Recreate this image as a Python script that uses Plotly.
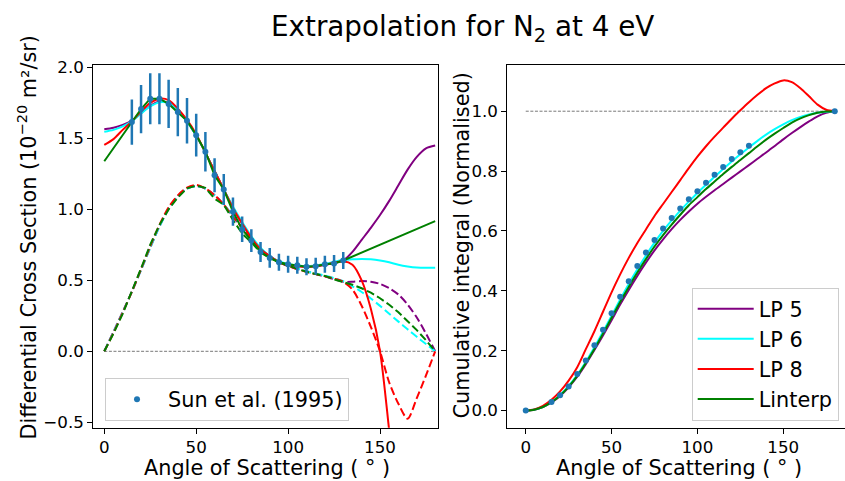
import plotly.graph_objects as go

# ---------------- data ----------------
ANG = [0, 5, 10, 15, 20, 25, 30, 35, 40, 45, 50, 55, 60, 65, 70, 75, 80, 85, 90,
       95, 100, 105, 110, 115, 120, 125, 130, 135, 140, 145, 150, 155, 160, 165,
       170, 175, 180]

# Differential cross sections (solid)
LP5 = [1.564, 1.575, 1.595, 1.625, 1.68, 1.73, 1.76, 1.75, 1.70, 1.62, 1.52, 1.40,
       1.27, 1.14, 1.01, 0.90, 0.80, 0.72, 0.67, 0.63, 0.61, 0.60, 0.60, 0.60, 0.61,
       0.62, 0.64, 0.70, 0.785, 0.87, 0.96, 1.06, 1.17, 1.28, 1.37, 1.43, 1.45]
LP6 = [1.546, 1.56, 1.585, 1.62, 1.675, 1.725, 1.755, 1.75, 1.70, 1.62, 1.52, 1.40,
       1.27, 1.14, 1.02, 0.91, 0.81, 0.73, 0.67, 0.635, 0.615, 0.605, 0.60, 0.605,
       0.615, 0.63, 0.645, 0.648, 0.65, 0.648, 0.64, 0.627, 0.61, 0.598, 0.59, 0.588,
       0.589]
LP8 = [1.454, 1.495, 1.56, 1.62, 1.69, 1.75, 1.78, 1.77, 1.71, 1.63, 1.53, 1.40,
       1.27, 1.14, 1.01, 0.90, 0.80, 0.72, 0.67, 0.63, 0.61, 0.60, 0.595, 0.60, 0.61,
       0.625, 0.635, 0.61, 0.50, 0.30, 0.0, -0.56, -1.15, -1.75, -1.95, -1.9, -1.8]
LIN_ANG = [0, 15, 20, 25, 30, 35, 40, 45, 50, 55, 60, 65, 70, 75, 80, 85, 90, 95,
           100, 105, 110, 115, 120, 125, 130, 180]
LIN = [1.339, 1.615, 1.707, 1.78, 1.78, 1.743, 1.686, 1.624, 1.523, 1.406, 1.241,
       1.14, 0.984, 0.86, 0.78, 0.70, 0.658, 0.628, 0.613, 0.606, 0.596, 0.60, 0.613,
       0.619, 0.64, 0.917]

# DCS x sin(theta) (dashed)
LP5_W = [0, 0.137, 0.277, 0.421, 0.575, 0.731, 0.88, 1.004, 1.093, 1.146, 1.164,
         1.147, 1.10, 1.033, 0.949, 0.869, 0.788, 0.717, 0.67, 0.628, 0.601, 0.580,
         0.564, 0.544, 0.528, 0.508, 0.49, 0.49, 0.495, 0.49, 0.475, 0.445, 0.40,
         0.33, 0.238, 0.125, 0]
LP6_W = [0, 0.136, 0.275, 0.419, 0.573, 0.729, 0.878, 1.004, 1.093, 1.146, 1.164,
         1.147, 1.100, 1.033, 0.958, 0.879, 0.798, 0.727, 0.67, 0.633, 0.606, 0.584,
         0.564, 0.548, 0.533, 0.516, 0.494, 0.458, 0.418, 0.372, 0.32, 0.265, 0.209,
         0.155, 0.102, 0.051, 0]
LP8_W = [0, 0.130, 0.271, 0.419, 0.578, 0.740, 0.89, 1.015, 1.099, 1.153, 1.172,
         1.147, 1.10, 1.033, 0.949, 0.869, 0.788, 0.717, 0.67, 0.628, 0.601, 0.580,
         0.559, 0.544, 0.528, 0.512, 0.49, 0.435, 0.321, 0.172, 0, -0.22, -0.37,
         -0.475, -0.33, -0.17, 0]
LIN_W = [0, 0.125, 0.264, 0.418, 0.584, 0.752, 0.89, 1.0, 1.084, 1.148, 1.167, 1.152,
         1.075, 1.033, 0.925, 0.83, 0.768, 0.697, 0.658, 0.626, 0.604, 0.585, 0.56,
         0.544, 0.531, 0.507, 0.49, 0.469, 0.444, 0.413, 0.374, 0.328, 0.275, 0.215,
         0.149, 0.078, 0]

# Sun et al. (1995)
SUN_ANG = [15, 20, 25, 30, 35, 40, 45, 50, 55, 60, 65, 70, 75, 80, 85, 90, 95, 100,
           105, 110, 115, 120, 125, 130]
SUN_DCS = [1.615, 1.707, 1.78, 1.78, 1.743, 1.686, 1.624, 1.523, 1.406, 1.241, 1.14,
           0.984, 0.86, 0.78, 0.70, 0.658, 0.628, 0.613, 0.606, 0.596, 0.60, 0.613,
           0.619, 0.64]
SUN_ERR = [0.16, 0.17, 0.18, 0.18, 0.17, 0.17, 0.16, 0.15, 0.14, 0.12, 0.11, 0.10,
           0.09, 0.08, 0.07, 0.07, 0.06, 0.06, 0.06, 0.06, 0.06, 0.06, 0.06, 0.06]

# Cumulative integrals (normalised)
CUM_ANG = [0, 15, 20, 25, 30, 35, 40, 45, 50, 55, 60, 65, 70, 75, 80, 85, 90, 95,
           100, 105, 110, 115, 120, 125, 130, 180]
SUN_CUM = [0, 0.029, 0.051, 0.08, 0.122, 0.167, 0.218, 0.27, 0.325, 0.38, 0.432,
           0.483, 0.528, 0.57, 0.608, 0.643, 0.675, 0.706, 0.733, 0.761, 0.788, 0.814,
           0.84, 0.863, 0.885, 1.0]
C5 = [0, 0.003, 0.012, 0.027, 0.049, 0.078, 0.113, 0.155, 0.202, 0.251, 0.302, 0.354,
      0.403, 0.45, 0.494, 0.535, 0.572, 0.606, 0.637, 0.665, 0.691, 0.714, 0.736, 0.757,
      0.778, 0.799, 0.82, 0.841, 0.862, 0.884, 0.906, 0.927, 0.947, 0.966, 0.983,
      0.995, 1.0]
C6 = [0, 0.0032, 0.0127, 0.0288, 0.0518, 0.082, 0.119, 0.163, 0.2115, 0.263, 0.317,
      0.371, 0.423, 0.472, 0.518, 0.561, 0.600, 0.635, 0.668, 0.698, 0.727, 0.754,
      0.781, 0.807, 0.832, 0.856, 0.879, 0.901, 0.922, 0.940, 0.956, 0.970, 0.981,
      0.989, 0.995, 0.9986, 1.0]
C8 = [0, 0.004, 0.016, 0.036, 0.064, 0.10, 0.145, 0.205, 0.265, 0.33, 0.395, 0.455,
      0.51, 0.56, 0.605, 0.65, 0.69, 0.73, 0.77, 0.81, 0.848, 0.883, 0.915, 0.945,
      0.975, 1.003, 1.03, 1.055, 1.077, 1.093, 1.103, 1.097, 1.077, 1.05, 1.022,
      1.005, 1.0]
CL = [0, 0.003, 0.012, 0.028, 0.05, 0.08, 0.116, 0.159, 0.206, 0.257, 0.31, 0.363,
      0.413, 0.461, 0.506, 0.548, 0.586, 0.621, 0.654, 0.686, 0.713, 0.74, 0.765,
      0.79, 0.814, 0.837, 0.86, 0.883, 0.905, 0.925, 0.944, 0.962, 0.976, 0.987,
      0.995, 0.999, 1.0]

REF_X = [0, 180]
REF_L = [0, 0]
REF_R = [1, 1]

NAMES = ["LP 5", "LP 6", "LP 8", "Linterp"]
COLORS = ["purple", "cyan", "red", "green"]

# ---------------- figure ----------------
FONT = "DejaVu Sans"
W, H = 845, 481
fig = go.Figure()

DASH = "8px,3.5px"
LW = 2

fig.add_trace(go.Scatter(x=REF_X, y=REF_L, mode="lines", xaxis="x", yaxis="y",
                         line=dict(color="#555555", width=0.8, dash="3px,1.6px"),
                         showlegend=False, hoverinfo="skip"))
fig.add_trace(go.Scatter(x=REF_X, y=REF_R, mode="lines", xaxis="x2", yaxis="y2",
                         line=dict(color="#555555", width=0.8, dash="3px,1.6px"),
                         showlegend=False, hoverinfo="skip"))

solids = [(ANG, LP5), (ANG, LP6), (ANG, LP8), (LIN_ANG, LIN)]
dashed = [LP5_W, LP6_W, LP8_W, LIN_W]
for i, ((xs, ys), yw) in enumerate(zip(solids, dashed)):
    shape = "linear" if i == 3 else "spline"
    fig.add_trace(go.Scatter(x=xs, y=ys, mode="lines", xaxis="x", yaxis="y",
                             line=dict(color=COLORS[i], width=LW, shape=shape, smoothing=0.8),
                             showlegend=False))
    fig.add_trace(go.Scatter(x=ANG, y=yw, mode="lines", xaxis="x", yaxis="y",
                             line=dict(color=COLORS[i], width=LW, dash=DASH,
                                       shape=shape, smoothing=0.8),
                             showlegend=False))

fig.add_trace(go.Scatter(x=SUN_ANG, y=SUN_DCS, mode="markers", xaxis="x", yaxis="y",
                         name="Sun et al. (1995)",
                         marker=dict(color="#1f77b4", size=6),
                         error_y=dict(type="data", array=SUN_ERR, color="#1f77b4",
                                      thickness=2.5, width=0),
                         legend="legend"))

cums = [C5, C6, C8, CL]
for i, c in enumerate(cums):
    fig.add_trace(go.Scatter(x=ANG, y=c, mode="lines", xaxis="x2", yaxis="y2",
                             name=NAMES[i],
                             line=dict(color=COLORS[i], width=LW, shape="spline", smoothing=0.8),
                             legend="legend2"))
fig.add_trace(go.Scatter(x=CUM_ANG, y=SUN_CUM, mode="markers", xaxis="x2", yaxis="y2",
                         marker=dict(color="#1f77b4", size=6), showlegend=False))

TICKF = dict(family=FONT, size=16.7, color="black")
axis_common = dict(showgrid=False, zeroline=False, showline=True, linecolor="black",
                   linewidth=1.1, ticks="outside", ticklen=5, tickwidth=1.1,
                   tickcolor="black", tickfont=TICKF)

YDOM = [0.105, 0.877]
fig.update_layout(
    width=W, height=H,
    margin=dict(l=0, r=0, t=0, b=0),
    paper_bgcolor="white", plot_bgcolor="white",
    font=dict(family=FONT, color="black"),
    xaxis=dict(domain=[0.1104, 0.5187], range=[-5.98, 181.7],
               tickvals=[0, 50, 100, 150], mirror=True, anchor="y",
               ticklabelstandoff=-1, **axis_common),
    yaxis=dict(domain=YDOM, range=[-0.538, 2.0186],
               tickvals=[-0.5, 0, 0.5, 1.0, 1.5, 2.0], tickformat=".1f",
               mirror=True, anchor="x", **axis_common),
    xaxis2=dict(domain=[0.6004, 1.0], range=[-10.72, 185.96],
                tickvals=[0, 50, 100, 150], mirror=True, anchor="y2",
                ticklabelstandoff=-1, **axis_common),
    yaxis2=dict(domain=YDOM, range=[-0.0571, 1.155],
                tickvals=[0, 0.2, 0.4, 0.6, 0.8, 1.0], tickformat=".1f",
                anchor="x2", **axis_common),
    legend=dict(x=105 / W, y=1 - 424 / H, xanchor="left", yanchor="bottom",
                bgcolor="rgba(255,255,255,0.8)", bordercolor="#cccccc", borderwidth=1,
                font=dict(family=FONT, size=20.8, color="black"), itemwidth=52),
    legend2=dict(x=691.7 / W, y=1 - 423.5 / H, xanchor="left", yanchor="bottom",
                 bgcolor="rgba(255,255,255,0.8)", bordercolor="#cccccc", borderwidth=1,
                 font=dict(family=FONT, size=20.8, color="black"), itemwidth=56),
    annotations=[
        dict(text="Extrapolation for N<sub>2</sub> at 4 eV", x=462 / W, y=1 - 22 / H,
             xref="paper", yref="paper", showarrow=False, xanchor="center",
             yanchor="middle", font=dict(family=FONT, size=27.8, color="black")),
        dict(text="Angle of Scattering ( ° )", x=266.7 / W, y=1 - 471.5 / H,
             xref="paper", yref="paper", showarrow=False, xanchor="center",
             yanchor="middle", font=dict(family=FONT, size=20.8, color="black")),
        dict(text="Angle of Scattering ( ° )", x=679 / W, y=1 - 471.5 / H,
             xref="paper", yref="paper", showarrow=False, xanchor="center",
             yanchor="middle", font=dict(family=FONT, size=20.8, color="black")),
        dict(text="Differential Cross Section (10<sup>−20</sup> m²/sr)", x=27 / W,
             y=1 - 236 / H, xref="paper", yref="paper", showarrow=False,
             xanchor="center", yanchor="middle", textangle=-90,
             font=dict(family=FONT, size=20.8, color="black")),
        dict(text="Cumulative integral (Normalised)", x=462 / W, y=1 - 244 / H,
             xref="paper", yref="paper", showarrow=False, xanchor="center",
             yanchor="middle", textangle=-90,
             font=dict(family=FONT, size=20.8, color="black")),
    ],
)

fig.write_html("out.html")
